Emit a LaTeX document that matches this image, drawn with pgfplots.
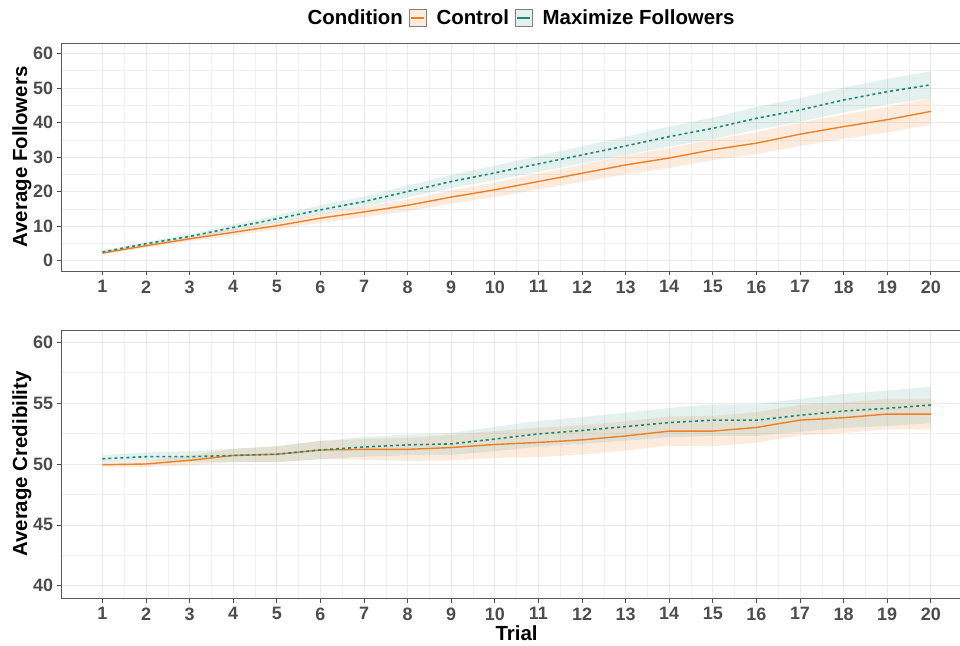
\documentclass[border=0pt]{standalone}
\usepackage{fontspec}
\setmainfont{Liberation Sans}
\usepackage{pgfplots}
\usepackage{pgfplotstable}
\pgfplotsset{compat=1.18}
\usepgfplotslibrary{fillbetween}
\definecolor{corange}{HTML}{F07F24}
\definecolor{cgreen}{HTML}{1D8A74}
\definecolor{tickgray}{HTML}{4D4D4D}
\definecolor{gridgray}{HTML}{EBEBEB}
\definecolor{bordergray}{HTML}{5A5A5A}

\pgfplotstableread{
x  c    clo   chi   m    mlo   mhi
1  2.2  1.9   2.5   2.5  2.2   2.8
2  4.3  3.8   4.8   4.9  4.4   5.4
3  6.3  5.6   7.0   7.0  6.3   7.7
4  8.2  7.3   9.1   9.6  8.7   10.5
5  10.1 9.0   11.2  12.1 11.0  13.2
6  12.3 11.0  13.6  14.7 13.4  16.0
7  14.1 12.6  15.6  17.1 15.6  18.6
8  16.0 14.3  17.7  20.0 18.3  21.7
9  18.4 16.5  20.3  22.9 21.0  24.8
10 20.5 18.4  22.6  25.4 23.3  27.5
11 22.9 20.6  25.2  28.0 25.7  30.3
12 25.3 22.8  27.8  30.6 28.1  33.1
13 27.7 25.0  30.4  33.2 30.5  35.9
14 29.7 26.8  32.6  35.9 33.0  38.8
15 32.1 29.1  35.1  38.3 35.2  41.4
16 34.0 30.8  37.2  41.2 37.9  44.5
17 36.6 33.2  40.0  43.6 40.2  47.0
18 38.8 35.3  42.3  46.5 42.9  50.1
19 40.8 37.1  44.5  48.9 45.2  52.6
20 43.2 39.4  47.0  50.9 47.0  54.8
}\followers

\pgfplotstableread{
x  c     clo    chi    m     mlo    mhi
1  49.94 49.79  50.09  50.43 50.13  50.73
2  50.00 49.75  50.25  50.60 50.25  50.95
3  50.30 49.90  50.70  50.60 50.15  51.05
4  50.70 50.15  51.25  50.70 50.15  51.25
5  50.80 50.15  51.45  50.80 50.15  51.45
6  51.15 50.40  51.90  51.15 50.40  51.90
7  51.20 50.35  52.05  51.40 50.60  52.20
8  51.20 50.25  52.15  51.57 50.72  52.42
9  51.35 50.30  52.40  51.65 50.75  52.55
10 51.60 50.50  52.70  52.05 51.05  53.05
11 51.77 50.57  52.97  52.47 51.42  53.52
12 51.98 50.78  53.18  52.75 51.65  53.85
13 52.30 51.10  53.50  53.07 51.92  54.22
14 52.70 51.50  53.90  53.40 52.20  54.60
15 52.70 51.45  53.95  53.60 52.30  54.90
16 53.00 51.75  54.25  53.60 52.30  54.90
17 53.60 52.35  54.85  54.00 52.65  55.35
18 53.80 52.55  55.05  54.35 52.95  55.75
19 54.10 52.85  55.35  54.57 53.12  56.02
20 54.10 52.85  55.35  54.84 53.34  56.34
}\credibility

\pgfplotsset{
  panel/.style={
    scale only axis,
    width=911.2bp,
    xmin=0.05, xmax=20.95,
    xtick={1,...,20},
    minor x tick num=1,
    minor y tick num=1,
    grid=both,
    major grid style={draw=gridgray, line width=0.7bp},
    minor grid style={draw=gridgray!75, line width=0.4bp},
    axis line style={draw=bordergray, line width=0.8bp},
    tick align=outside,
    xtick pos=bottom, ytick pos=left,
    major tick length=4.5bp,
    minor tick length=0bp,
    major tick style={draw=tickgray, line width=0.7bp},
    tick label style={font=\fontsize{18}{18}\selectfont\bfseries, text=tickgray},
    xticklabel style={yshift=-1.5bp},
    /pgf/number format/assume math mode=true,
    every axis y label/.style={at={(axis description cs:0,0.5)}, rotate=90, anchor=center, yshift=39bp},
    every axis x label/.style={at={(axis description cs:0.5,0)}, anchor=center, yshift=-35bp},
    label style={font=\fontsize{20.5}{21}\selectfont\bfseries, text=black},
  }
}

\begin{document}
\begin{tikzpicture}

% Top panel
\begin{axis}[panel,
  at={(61bp,375bp)}, anchor=south west,
  height=228bp,
  ymin=-3, ymax=63,
  ytick={0,10,...,60},
  ylabel={Average Followers},
  legend columns=-1,
  legend entries={Condition, Control, Maximize Followers},
  legend style={at={(0.5,1.1096)}, anchor=center, draw=none, fill=none,
    font=\fontsize{20.5}{21}\selectfont\bfseries,
    nodes={inner xsep=1bp},
    /tikz/every odd column/.append style={column sep=9bp},
    /tikz/every even column/.append style={column sep=5bp}},
]
\addlegendimage{empty legend}
\addlegendimage{legend image code/.code={
  \draw[draw=gray, line width=0.6bp, fill=corange!15] (0bp,-8.5bp) rectangle (17bp,8.5bp);
  \draw[corange, line width=1.3bp] (2bp,0bp) -- (15bp,0bp);}}
\addlegendimage{legend image code/.code={
  \draw[draw=gray, line width=0.6bp, fill=cgreen!12] (0bp,-8.5bp) rectangle (17bp,8.5bp);
  \draw[cgreen, line width=1.3bp] (2bp,0bp) -- (15bp,0bp);}}

\addplot[draw=none, name path=clo] table[x=x, y=clo] {\followers};
\addplot[draw=none, name path=chi] table[x=x, y=chi] {\followers};
\addplot[fill=corange, fill opacity=0.15, draw=none] fill between[of=clo and chi];
\addplot[draw=none, name path=mlo] table[x=x, y=mlo] {\followers};
\addplot[draw=none, name path=mhi] table[x=x, y=mhi] {\followers};
\addplot[fill=cgreen, fill opacity=0.12, draw=none] fill between[of=mlo and mhi];
\addplot[corange, line width=1.4bp] table[x=x, y=c] {\followers};
\addplot[cgreen, line width=1.6bp, dash pattern=on 3bp off 3bp] table[x=x, y=m] {\followers};
\end{axis}

% Bottom panel
\begin{axis}[panel,
  at={(61bp,48bp)}, anchor=south west,
  height=268bp,
  ymin=39, ymax=61,
  ytick={40,45,...,60},
  ylabel={Average Credibility},
  xlabel={Trial},
]
\addplot[draw=none, name path=clo] table[x=x, y=clo] {\credibility};
\addplot[draw=none, name path=chi] table[x=x, y=chi] {\credibility};
\addplot[fill=corange, fill opacity=0.15, draw=none] fill between[of=clo and chi];
\addplot[draw=none, name path=mlo] table[x=x, y=mlo] {\credibility};
\addplot[draw=none, name path=mhi] table[x=x, y=mhi] {\credibility};
\addplot[fill=cgreen, fill opacity=0.12, draw=none] fill between[of=mlo and mhi];
\addplot[corange, line width=1.4bp] table[x=x, y=c] {\credibility};
\addplot[cgreen, line width=1.6bp, dash pattern=on 3bp off 3bp] table[x=x, y=m] {\credibility};
\end{axis}

\pgfresetboundingbox
\useasboundingbox (0,0) rectangle (960bp,646bp);
\end{tikzpicture}
\end{document}
